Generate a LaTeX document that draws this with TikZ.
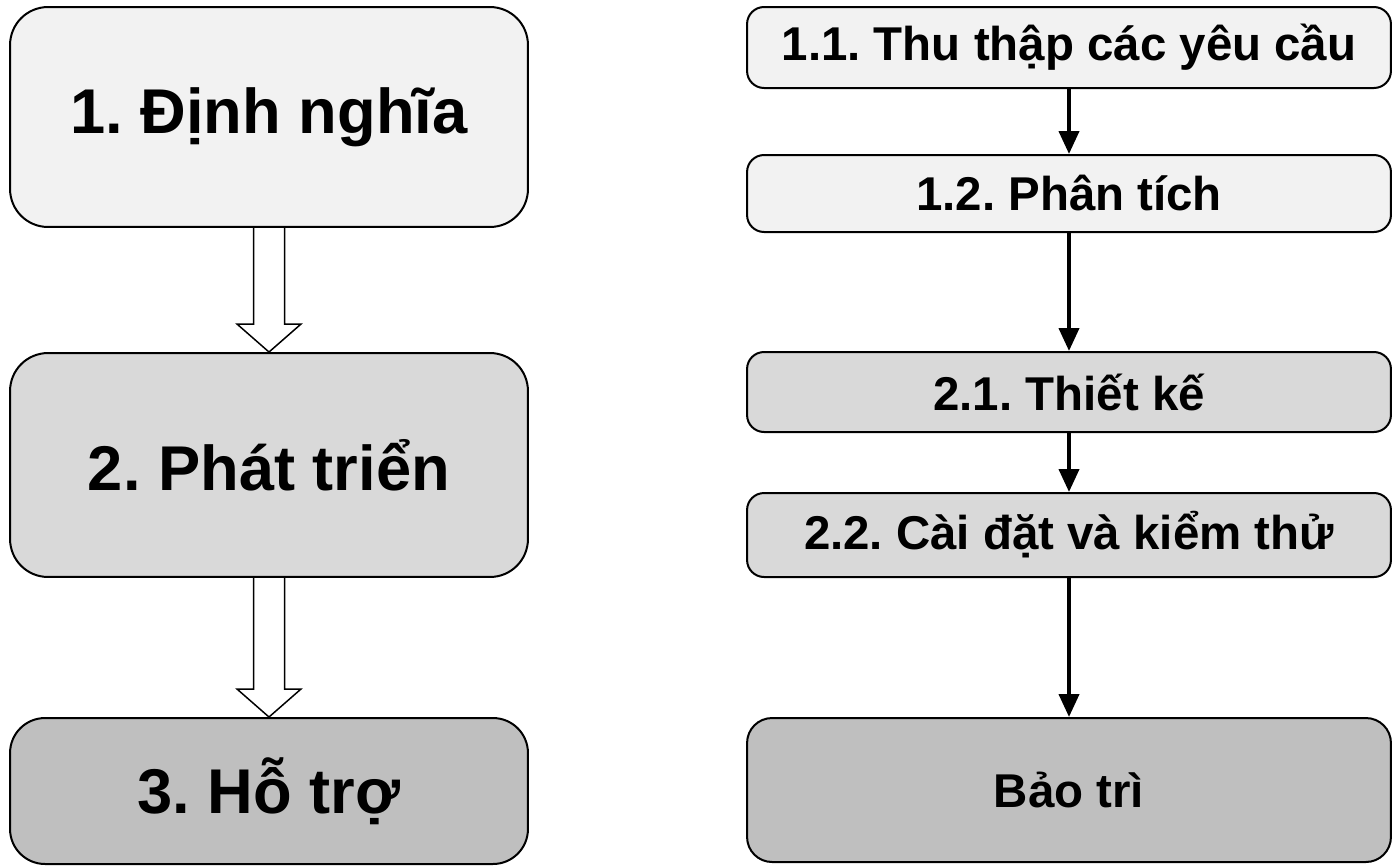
\documentclass[tikz,border=0pt]{standalone}
\usepackage{fontspec}
\setmainfont{Liberation Sans}
\usetikzlibrary{arrows.meta,calc}
\frenchspacing

\newcommand{\hollowarrow}[2]{%
  \draw[line width=0.03cm, line join=miter]
    ($(#1.south)+(-15.5,0)$) -- ($(#2.north)+(-15.5,-28)$) -- ($(#2.north)+(-32,-28)$)
    -- (#2.north) -- ($(#2.north)+(32,-28)$) -- ($(#2.north)+(15.5,-28)$)
    -- ($(#1.south)+(15.5,0)$);}

\begin{document}
\begin{tikzpicture}[x=0.02cm,y=-0.02cm,
    phase/.style={draw, line width=0.04cm, rounded corners=0.76cm, inner sep=0pt,
      minimum width=10.36cm, font=\fontsize{36}{43}\selectfont\bfseries},
    task/.style={draw, line width=0.04cm, rounded corners=0.34cm, inner sep=0pt,
      minimum width=12.88cm, font=\fontsize{27}{32}\selectfont\bfseries},
    flow/.style={line width=0.08cm, -{Triangle[width=0.4cm,length=0.46cm]}}]
    % Define colors
    \definecolor{defbox}{RGB}{242,242,242}
    \definecolor{devbox}{RGB}{217,217,217}
    \definecolor{supbox}{RGB}{191,191,191}

    \useasboundingbox (0,0) rectangle (1393,867);

    % Phases (left)
    \node[phase, fill=defbox, minimum height=4.4cm] (dinhnghia) at (269,117) {1. Định nghĩa};
    \node[phase, fill=devbox, minimum height=4.48cm] (phattrien) at (269,465) {2. Phát triển};
    \node[phase, fill=supbox, minimum height=2.92cm, rounded corners=0.7cm] (hotro) at (269,791) {3. Hỗ trợ};

    \hollowarrow{dinhnghia}{phattrien}
    \hollowarrow{phattrien}{hotro}

    % Steps (right)
    \node[task, fill=defbox, minimum height=1.62cm] (thuthap) at (1069,47.5) {1.1. Thu thập các yêu cầu};
    \node[task, fill=defbox, minimum height=1.54cm] (phantich) at (1069,193.5) {1.2. Phân tích};
    \node[task, fill=devbox, minimum height=1.6cm] (thietke) at (1069,392) {2.1. Thiết kế};
    \node[task, fill=devbox, minimum height=1.68cm] (caidat) at (1069,535) {2.2. Cài đặt và kiểm thử};
    \node[task, fill=supbox, minimum height=2.88cm, rounded corners=0.5cm] (baotri) at (1069,790) {Bảo trì};

    \draw[flow] (thuthap) -- (phantich);
    \draw[flow] (phantich) -- (thietke);
    \draw[flow] (thietke) -- (caidat);
    \draw[flow] (caidat) -- (baotri);

\end{tikzpicture}
\end{document}
